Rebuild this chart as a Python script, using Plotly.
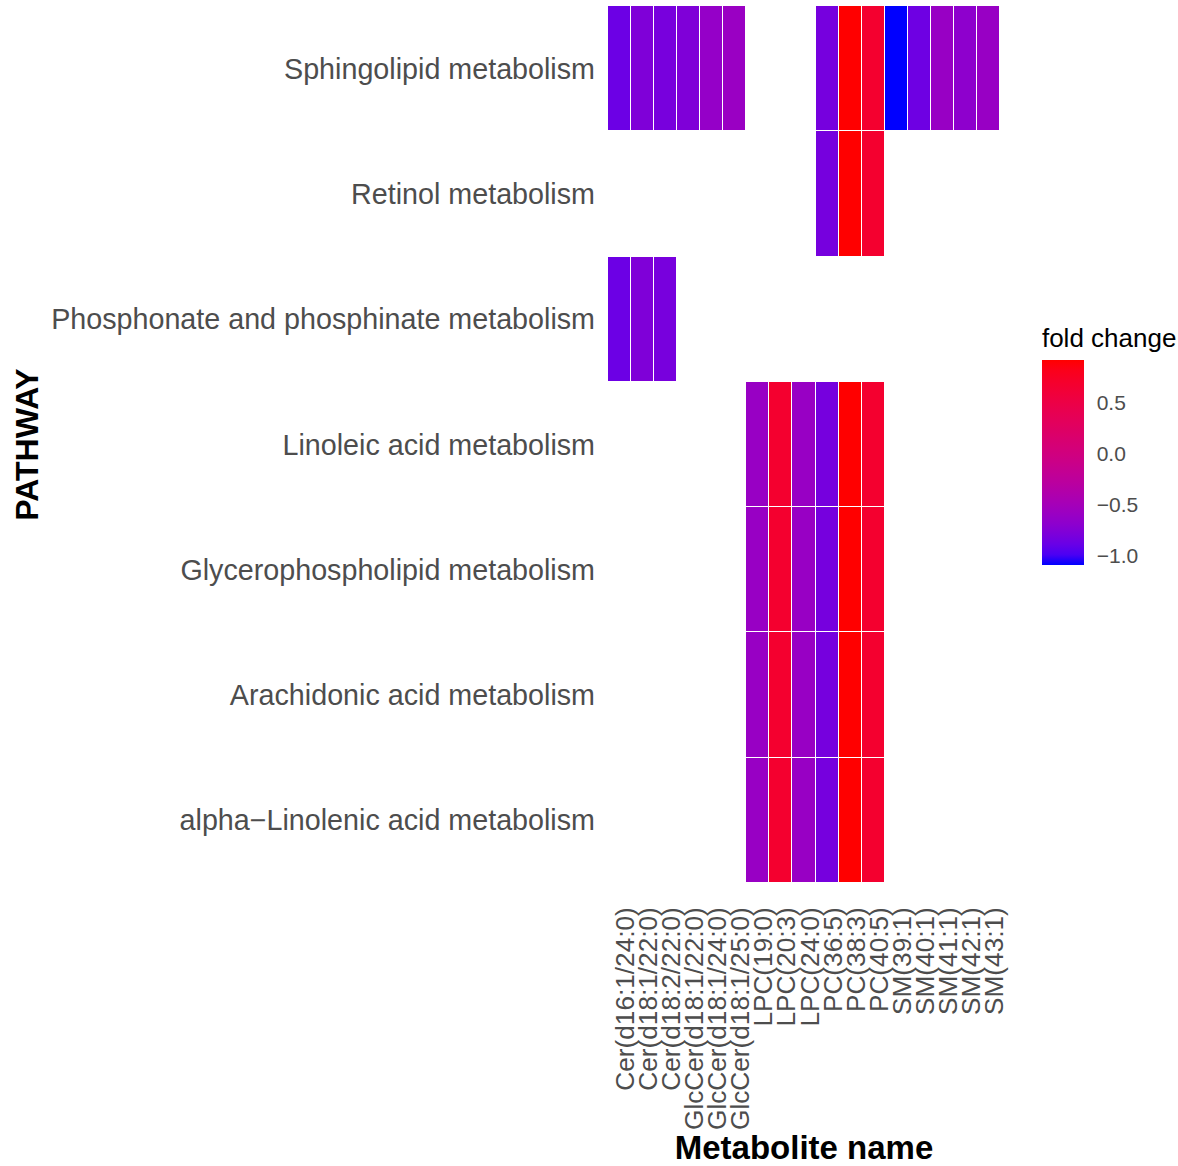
import plotly.graph_objects as go
import numpy as np

metabolites = ["Cer(d16:1/24:0)", "Cer(d18:1/22:0)", "Cer(d18:2/22:0)",
               "GlcCer(d18:1/22:0)", "GlcCer(d18:1/24:0)", "GlcCer(d18:1/25:0)",
               "LPC(19:0)", "LPC(20:3)", "LPC(24:0)",
               "PC(36:5)", "PC(38:3)", "PC(40:5)",
               "SM(39:1)", "SM(40:1)", "SM(41:1)", "SM(42:1)", "SM(43:1)"]
fold_change = [-0.87, -0.77, -0.81,
               -0.77, -0.63, -0.59,
               -0.60, 0.68, -0.60,
               -0.82, 0.92, 0.68,
               -1.09, -0.86, -0.60, -0.68, -0.60]

pathways = ["alpha\u2212Linolenic acid metabolism",
            "Arachidonic acid metabolism",
            "Glycerophospholipid metabolism",
            "Linoleic acid metabolism",
            "Phosphonate and phosphinate metabolism",
            "Retinol metabolism",
            "Sphingolipid metabolism"]
lipid_set = ["LPC(19:0)", "LPC(20:3)", "LPC(24:0)", "PC(36:5)", "PC(38:3)", "PC(40:5)"]
members = {
    "alpha\u2212Linolenic acid metabolism": lipid_set,
    "Arachidonic acid metabolism": lipid_set,
    "Glycerophospholipid metabolism": lipid_set,
    "Linoleic acid metabolism": lipid_set,
    "Phosphonate and phosphinate metabolism": ["Cer(d16:1/24:0)", "Cer(d18:1/22:0)", "Cer(d18:2/22:0)"],
    "Retinol metabolism": ["PC(36:5)", "PC(38:3)", "PC(40:5)"],
    "Sphingolipid metabolism": ["Cer(d16:1/24:0)", "Cer(d18:1/22:0)", "Cer(d18:2/22:0)",
                                "GlcCer(d18:1/22:0)", "GlcCer(d18:1/24:0)", "GlcCer(d18:1/25:0)",
                                "PC(36:5)", "PC(38:3)", "PC(40:5)",
                                "SM(39:1)", "SM(40:1)", "SM(41:1)", "SM(42:1)", "SM(43:1)"],
}

colorbar_ticks = [-1.0, -0.5, 0.0, 0.5]
colorbar_ticktext = ["\u22121.0", "\u22120.5", "0.0", "0.5"]

val = dict(zip(metabolites, fold_change))
z = [[val[m] if m in members[p] else None for m in metabolites] for p in pathways]


# ggplot-like Lab interpolation between blue and red
def srgb_to_lab(rgb):
    c = np.array(rgb) / 255.0
    c = np.where(c > 0.04045, ((c + 0.055) / 1.055) ** 2.4, c / 12.92)
    M = np.array([[0.4124, 0.3576, 0.1805], [0.2126, 0.7152, 0.0722], [0.0193, 0.1192, 0.9505]])
    xyz = M @ c / np.array([0.95047, 1.0, 1.08883])
    f = np.where(xyz > 0.008856, np.cbrt(xyz), 7.787 * xyz + 16 / 116)
    return np.array([116 * f[1] - 16, 500 * (f[0] - f[1]), 200 * (f[1] - f[2])])


def lab_to_srgb(lab):
    L, a, b = lab
    fy = (L + 16) / 116
    fx = fy + a / 500
    fz = fy - b / 200
    f = np.array([fx, fy, fz])
    xyz = np.where(f ** 3 > 0.008856, f ** 3, (f - 16 / 116) / 7.787) * np.array([0.95047, 1.0, 1.08883])
    Mi = np.array([[3.2406, -1.5372, -0.4986], [-0.9689, 1.8758, 0.0415], [0.0557, -0.2040, 1.0570]])
    c = Mi @ xyz
    c = np.clip(c, 0, 1)
    c = np.where(c > 0.0031308, 1.055 * c ** (1 / 2.4) - 0.055, 12.92 * c)
    return np.clip(np.round(c * 255), 0, 255).astype(int)


lo, hi = srgb_to_lab((0, 0, 255)), srgb_to_lab((255, 0, 0))
colorscale = []
for t in np.linspace(0, 1, 21):
    r, g, b = lab_to_srgb(lo + (hi - lo) * t)
    colorscale.append([float(t), f"rgb({r},{g},{b})"])

fig = go.Figure(go.Heatmap(
    z=z, x=metabolites, y=pathways,
    colorscale=colorscale, xgap=1, ygap=1, hoverongaps=False,
    colorbar=dict(
        title=dict(text="fold change", side="top", font=dict(size=26, color="black")),
        x=1.107, xanchor="left", xpad=0, xref="paper",
        y=0.648, yanchor="top", ypad=10, len=260, lenmode="pixels",
        thickness=42, thicknessmode="pixels",
        outlinewidth=0,
        tickvals=colorbar_ticks, ticktext=colorbar_ticktext,
        ticks="outside", ticklen=9, tickcolor="white", tickwidth=1,
        tickfont=dict(size=21, color="#4D4D4D"),
    ),
))

fig.update_layout(
    width=1178, height=1166,
    margin=dict(l=608, r=178, t=6, b=283, autoexpand=False),
    plot_bgcolor="white", paper_bgcolor="white",
    font=dict(family="Liberation Sans, Arial, sans-serif"),
    xaxis=dict(
        title=dict(text="<b>Metabolite name</b>", font=dict(size=33, color="black"), standoff=4),
        tickangle=-90, tickfont=dict(size=26.2, color="#4D4D4D"),
        tickmode="array", tickvals=metabolites,
        showgrid=False, zeroline=False, ticks="", ticklabelstandoff=18,
        ticklabelshift=6,
    ),
    yaxis=dict(
        title=dict(text="<b>PATHWAY</b>", font=dict(size=32, color="black"), standoff=2),
        tickfont=dict(size=28.7, color="#4D4D4D"),
        showgrid=False, zeroline=False, ticks="", ticklabelstandoff=12,
        categoryorder="array", categoryarray=pathways,
    ),
)

fig.write_html("out.html", post_script="document.body.style.margin='0';",
               config={"displayModeBar": False})
